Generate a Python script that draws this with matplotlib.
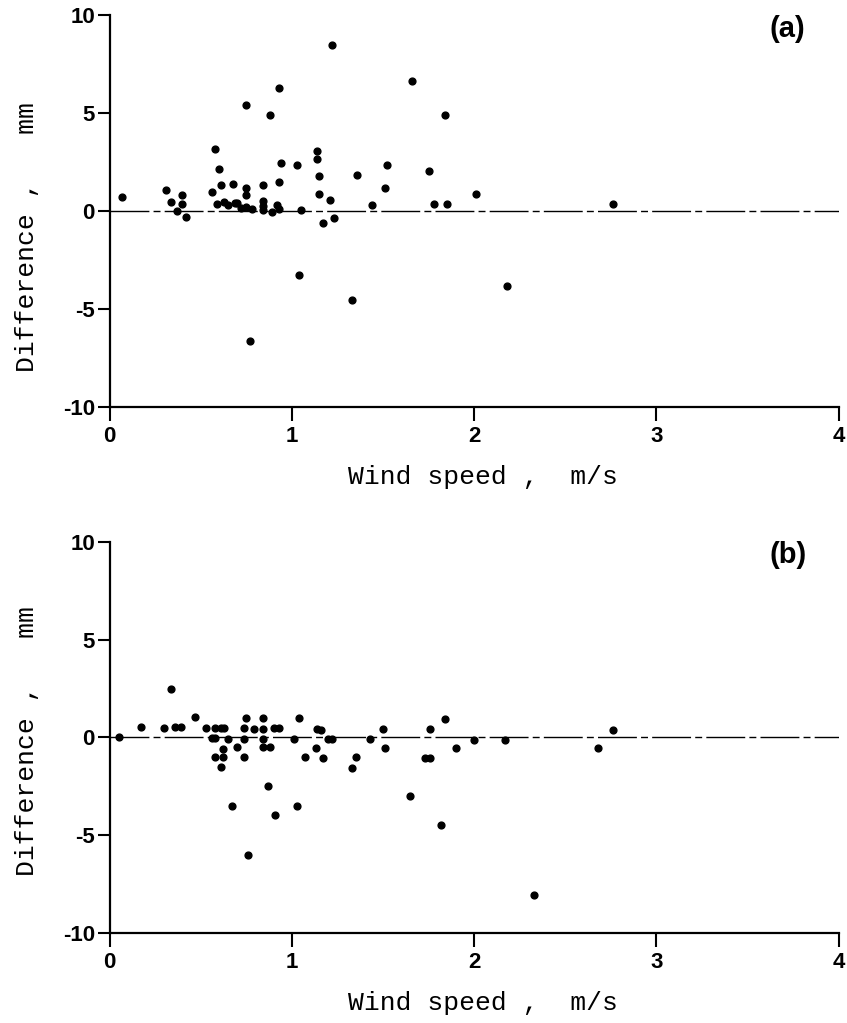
import numpy as np
import matplotlib
matplotlib.use("Agg")
import matplotlib.pyplot as plt

plt.rcParams["axes.unicode_minus"] = False

# panel (a): wind speed (m/s) and difference (mm)
wind_a = [0.07, 0.31, 0.34, 0.40, 0.40, 0.37, 0.42, 0.58, 0.60, 0.61, 0.56, 0.59,
          0.63, 0.65, 0.68, 0.69, 0.70, 0.72, 0.75, 0.75, 0.75, 0.75, 0.78, 0.77,
          0.84, 0.84, 0.84, 0.84, 0.88, 0.89, 0.92, 0.93, 0.93, 0.94, 0.93, 1.03,
          1.05, 1.04, 1.14, 1.14, 1.15, 1.15, 1.17, 1.21, 1.23, 1.22, 1.33, 1.36,
          1.44, 1.52, 1.51, 1.66, 1.84, 1.75, 1.78, 1.85, 2.01, 2.18, 2.76]
diff_a = [0.72, 1.09, 0.43, 0.80, 0.36, 0.0, -0.32, 3.17, 2.13, 1.30, 0.94, 0.34,
          0.46, 0.29, 1.35, 0.38, 0.41, 0.17, 1.19, 0.80, 5.43, 0.20, 0.09, -6.65,
          1.30, 0.50, 0.27, 0.07, 4.89, -0.07, 0.31, 0.10, 1.47, 2.42, 6.30, 2.33,
          0.07, -3.28, 3.06, 2.67, 1.76, 0.87, -0.61, 0.55, -0.36, 8.46, -4.54, 1.82,
          0.29, 2.33, 1.19, 6.61, 4.90, 2.06, 0.36, 0.36, 0.87, -3.83, 0.33]

# panel (b)
wind_b = [0.05, 0.17, 0.30, 0.34, 0.36, 0.39, 0.47, 0.53, 0.56, 0.58, 0.58, 0.61,
          0.63, 0.58, 0.62, 0.62, 0.61, 0.65, 0.67, 0.70, 0.74, 0.75, 0.74, 0.74,
          0.76, 0.79, 0.84, 0.84, 0.84, 0.84, 0.88, 0.87, 0.90, 0.93, 0.91, 1.01,
          1.04, 1.07, 1.03, 1.13, 1.14, 1.16, 1.17, 1.20, 1.22, 1.33, 1.35, 1.43,
          1.50, 1.51, 1.65, 1.73, 1.76, 1.76, 1.84, 1.82, 1.90, 2.00, 2.17, 2.33,
          2.68, 2.76]
diff_b = [0.0, 0.53, 0.48, 2.47, 0.53, 0.53, 1.02, 0.46, -0.05, -0.05, 0.48, 0.48,
          0.48, -0.99, -0.99, -0.60, -1.50, -0.09, -3.52, -0.48, 0.48, 0.99, -0.10, -1.02,
          -5.99, 0.43, 0.99, 0.43, -0.09, -0.48, -0.48, -2.51, 0.48, 0.48, -3.99, -0.09,
          0.97, -1.02, -3.52, -0.53, 0.43, 0.39, -1.04, -0.09, -0.09, -1.55, -1.02, -0.07,
          0.44, -0.55, -3.02, -1.06, -1.06, 0.43, 0.94, -4.47, -0.56, -0.12, -0.12, -8.04,
          -0.56, 0.39]

xticks = [0, 1, 2, 3, 4]
yticks = [-10, -5, 0, 5, 10]

fig = plt.figure(figsize=(8.47, 10.23), dpi=100)
ax_a = fig.add_axes([0.1293, 0.6024, 0.8609, 0.3829])
ax_b = fig.add_axes([0.1293, 0.0880, 0.8609, 0.3825])

label_font = dict(family="Liberation Mono", size=19)

for ax, xs, ys, tag, ylab_y in [(ax_a, wind_a, diff_a, "(a)", 0.433),
                                 (ax_b, wind_b, diff_b, "(b)", 0.49)]:
    ax.plot([0, 4], [0, 0], color="black", lw=1.0,
            linestyle=(0, (28, 3, 5, 3)), zorder=1)
    ax.scatter(xs, ys, s=24, color="black", zorder=3, clip_on=False)
    ax.set_xlim(0, 4)
    ax.set_ylim(-10, 10)
    ax.set_xticks(xticks)
    ax.set_yticks(yticks)
    ax.spines["top"].set_visible(False)
    ax.spines["right"].set_visible(False)
    for s in ["left", "bottom"]:
        ax.spines[s].set_linewidth(1.6)
    ax.tick_params(axis="y", length=8.5, width=1.5, pad=2, labelsize=16)
    ax.tick_params(axis="x", length=10, width=1.5, pad=4, labelsize=16)
    for lab in ax.get_xticklabels() + ax.get_yticklabels():
        lab.set_family("Liberation Sans")
        lab.set_fontweight("bold")
    ax.set_xlabel("Wind speed ,  m/s", **label_font)
    ax.xaxis.set_label_coords(0.512, -0.179)
    ax.xaxis.label.set_va("center")
    ax.set_ylabel("Difference ,   mm", **label_font)
    ax.yaxis.set_label_coords(-0.113, ylab_y)
    ax.yaxis.label.set_va("center")
    ax.text(0.93, 0.965, tag, transform=ax.transAxes, ha="center", va="center",
            fontsize=21, fontweight="bold", family="Liberation Sans")

fig.savefig("out.png", dpi=100)
